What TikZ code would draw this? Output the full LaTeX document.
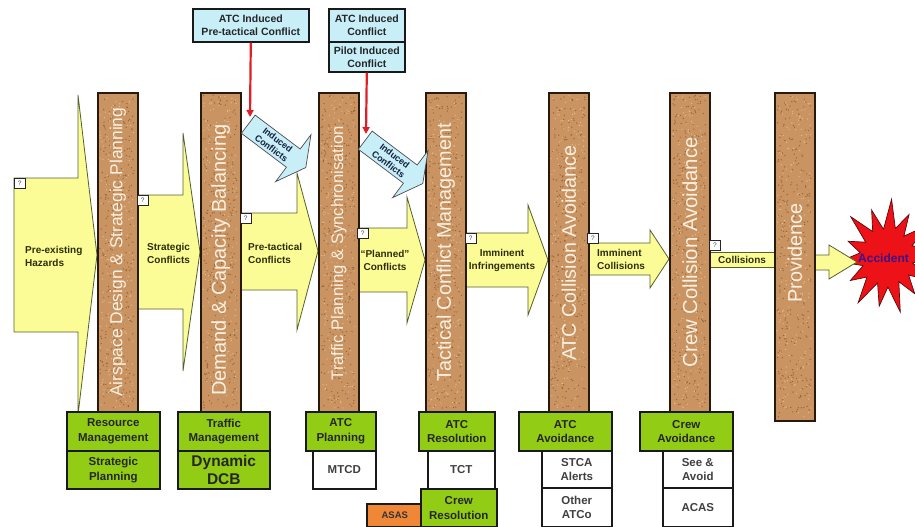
\documentclass[tikz,border=0pt]{standalone}
\usepackage{fontspec}
\setmainfont{Liberation Sans}
\usetikzlibrary{shapes.arrows,arrows.meta,calc}

\definecolor{cork}{RGB}{201,148,98}
\definecolor{corkdark}{RGB}{150,100,58}
\definecolor{corklight}{RGB}{228,190,145}
\definecolor{corkedge}{RGB}{40,25,15}
\definecolor{corktext}{RGB}{248,240,226}
\definecolor{hazard}{RGB}{252,252,150}
\definecolor{hazardedge}{RGB}{85,95,45}
\definecolor{inktext}{RGB}{45,45,10}
\definecolor{induced}{RGB}{200,238,248}
\definecolor{navytext}{RGB}{20,30,60}
\definecolor{alarm}{RGB}{225,30,35}
\definecolor{leaf}{RGB}{146,204,20}
\definecolor{asas}{RGB}{240,135,55}
\definecolor{blast}{RGB}{236,18,24}
\definecolor{blastedge}{RGB}{90,10,10}
\definecolor{blasttext}{RGB}{60,20,140}

\tikzset{
  barrier/.style={draw=corkedge, fill=cork, line width=1.6pt, minimum width=40pt, inner sep=0pt},
  barlabel/.style={rotate=90, text=corktext, inner sep=0pt},
  flow/.style={draw=hazardedge, fill=hazard, line width=0.8pt, line join=miter},
  flowtext/.style={font=\bfseries\fontsize{10}{13}\selectfont, text=inktext, inner sep=0pt},
  query/.style={draw=black!85, fill=white, line width=0.6pt, minimum width=11pt, minimum height=10pt,
    inner sep=0pt, anchor=north west, font=\fontsize{6.5}{6.5}\selectfont, text=black!70},
  infobox/.style={draw=black!90, fill=induced, line width=1.6pt, inner sep=0pt, anchor=north west,
    align=center, font=\bfseries\fontsize{10.5}{13}\selectfont, text=black!85},
  inducedarrow/.style={single arrow, draw=black!70, fill=induced, line width=0.7pt,
    single arrow head extend=18pt, single arrow tip angle=124, minimum height=72pt,
    inner xsep=2pt, inner ysep=2.5pt, anchor=tail, rotate=-37, align=center,
    font=\bfseries\fontsize{9}{10.5}\selectfont, text=navytext},
  cause/.style={draw=alarm, line width=2.2pt, -{Triangle[length=7pt,width=7pt]}},
  barrierbox/.style={draw=black!90, fill=leaf, line width=1.6pt, inner sep=0pt, anchor=north west,
    align=center, font=\bfseries\fontsize{11.5}{14.5}\selectfont, text=black!85},
  toolbox/.style={barrierbox, fill=white, text=black!75},
  asasbox/.style={barrierbox, fill=asas, font=\bfseries\fontsize{9.5}{11}\selectfont, text=black!80},
}

\begin{document}
\begin{tikzpicture}[x=1pt,y=-1pt]
\useasboundingbox (0,0) rectangle (915,527);

% accident starburst
\begin{scope}[shift={(887,257)}, xscale=0.9]
  \draw[fill=blast, draw=blastedge, line width=0.7pt, line join=miter]
    plot coordinates {(0:52) (12:29) (25:58) (37:30) (50:48) (62:28) (75:57) (88:30)
      (100:50) (112:28) (125:56) (138:30) (150:47) (162:28) (175:53) (188:30)
      (200:46) (212:28) (225:57) (238:30) (250:50) (262:28) (275:58) (288:30)
      (300:49) (312:28) (325:56) (338:30) (350:48)} -- cycle;
\end{scope}
\node[anchor=west, inner sep=0pt, font=\bfseries\fontsize{12}{12}\selectfont, text=blasttext] (acc) at (858,258) {Accident};

% flow arrows between the barriers
\draw[flow] (14,178) -- (78,178) -- (78,95) -- (97,255) -- (78,415) -- (78,332) -- (14,332) -- cycle;
\draw[flow] (135,195) -- (183,195) -- (183,133) -- (200,252) -- (183,371) -- (183,309) -- (135,309) -- cycle;
\draw[flow] (238,213) -- (297,213) -- (297,173) -- (318,251) -- (297,330) -- (297,290) -- (238,290) -- cycle;
\draw[flow] (355,228) -- (407,228) -- (407,197) -- (425,260) -- (407,323) -- (407,292) -- (355,292) -- cycle;
\draw[flow] (463,233) -- (528,233) -- (528,205) -- (548,260) -- (528,315) -- (528,287) -- (463,287) -- cycle;
\draw[flow] (585,243) -- (650,243) -- (650,230) -- (669,259) -- (650,288) -- (650,275) -- (585,275) -- cycle;
\draw[flow] (707,252) rectangle (790,267);
\draw[flow] (812,255) -- (829,255) -- (829,245) -- (857,262) -- (829,279) -- (829,270) -- (812,270) -- cycle;

\node[flowtext, anchor=west, align=left] (f1) at (25,256) {Pre-existing\\Hazards};
\node[flowtext, anchor=west, align=left] (f2) at (147,253) {Strategic\\Conflicts};
\node[flowtext, anchor=west, align=left] (f3) at (248,253) {Pre-tactical\\Conflicts};
\node[flowtext, align=center] (f4) at (385,260) {“Planned”\\Conflicts};
\node[flowtext, align=center] (f5) at (502,260) {Imminent\\Infringements};
\node[flowtext, anchor=west, align=left] (f6) at (597,259.5) {Imminent\\Collisions};
\node[flowtext, anchor=west] (f7) at (718,259.5) {Collisions};

% barriers with a cork finish
\foreach \bx/\bb [count=\i] in {97/411,200/411,318/411,425/411,548/411,669/411,774/420}{
  \node[barrier, minimum height={\bb-92}, anchor=north west] (bar\i) at (\bx,92) {};
}
\pgfmathsetseed{17}
\foreach \bx/\bb in {97/411,200/411,318/411,425/411,548/411,669/411,774/420}{
  \foreach \k in {1,...,300}{
    \fill[corkdark] ({\bx+3+34*rnd},{95+(\bb-98)*rnd}) circle (0.7);
  }
  \foreach \k in {1,...,200}{
    \fill[corklight] ({\bx+3+34*rnd},{95+(\bb-98)*rnd}) circle (0.65);
  }
}
\node[barlabel, font=\fontsize{17.4}{17.4}\selectfont] (l1) at (bar1.center) {Airspace Design \& Strategic Planning};
\node[barlabel, font=\fontsize{20}{20}\selectfont] (l2) at ($(bar2.center)+(0,8)$) {Demand \& Capacity Balancing};
\node[barlabel, font=\fontsize{16.7}{16.7}\selectfont] (l3) at ($(bar3.center)+(0,1)$) {Traffic Planning \& Synchronisation};
\node[barlabel, font=\fontsize{19.8}{19.8}\selectfont] (l4) at (bar4.center) {Tactical Conflict Management};
\node[barlabel, font=\fontsize{19.7}{19.7}\selectfont] (l5) at ($(bar5.center)+(0,1)$) {ATC Collision Avoidance};
\node[barlabel, font=\fontsize{20.3}{20.3}\selectfont] (l6) at (bar6.center) {Crew Collision Avoidance};
\node[barlabel, font=\fontsize{19.8}{19.8}\selectfont] (l7) at ($(bar7.center)+(0,-4)$) {Providence};

% open issue markers
\node[query] (q1) at (14,178) {?};
\node[query] (q2) at (137,195) {?};
\node[query] (q3) at (240,213) {?};
\node[query] (q4) at (357,228) {?};
\node[query] (q5) at (465,233) {?};
\node[query] (q6) at (587,233) {?};
\node[query] (q7) at (709,240) {?};

% induced conflict sources
\node[infobox, minimum width=116pt, minimum height=33pt] (pta) at (192,8) {ATC Induced\\Pre-tactical Conflict};
\node[infobox, minimum width=76pt, minimum height=33pt] (atci) at (328,8) {ATC Induced\\Conflict};
\node[infobox, minimum width=76pt, minimum height=30pt] (pilot) at (328,41) {Pilot Induced\\Conflict};

\node[inducedarrow] (ind1) at (248,124) {Induced\\Conflicts};
\node[inducedarrow] (ind2) at (365,140) {Induced\\Conflicts};

\coordinate (r1end) at (250,117);
\coordinate (r2end) at (366,134);
\draw[cause] (pta.south) -- (r1end);
\draw[cause] (pilot.south) -- (r2end);

% barrier functions and their tools
\node[barrierbox, minimum width=93pt, minimum height=39pt] (g1a) at (66,411) {Resource\\Management};
\node[barrierbox, minimum width=93pt, minimum height=38pt] (g1b) at (66,450) {Strategic\\Planning};
\node[barrierbox, minimum width=92pt, minimum height=39pt] (g2a) at (177,411) {Traffic\\Management};
\node[barrierbox, minimum width=92pt, minimum height=38pt, font=\bfseries\fontsize{15.5}{18.5}\selectfont] (g2b) at (177,450) {Dynamic\\DCB};

\node[toolbox, minimum width=63pt, minimum height=38pt] (w3) at (312,450) {MTCD};
\node[barrierbox, minimum width=70pt, minimum height=39pt] (g3a) at (305,411) {ATC\\Planning};

\node[asasbox, minimum width=56pt, minimum height=23pt] (o4) at (366,503) {ASAS};
\node[toolbox, minimum width=67pt, minimum height=38pt] (w4) at (427,450) {TCT};
\node[barrierbox, minimum width=76pt, minimum height=38pt] (g4b) at (420,488) {Crew\\Resolution};
\node[barrierbox, minimum width=76pt, minimum height=39pt] (g4a) at (418,411) {ATC\\Resolution};

\node[toolbox, minimum width=70pt, minimum height=37pt] (w5a) at (541,450) {STCA\\Alerts};
\node[toolbox, minimum width=70pt, minimum height=39pt] (w5b) at (541,487) {Other\\ATCo};
\node[barrierbox, minimum width=93pt, minimum height=39pt] (g5a) at (518,411) {ATC\\Avoidance};

\node[toolbox, minimum width=70pt, minimum height=37pt] (w6a) at (662,450) {See \&\\Avoid};
\node[toolbox, minimum width=70pt, minimum height=39pt] (w6b) at (662,487) {ACAS};
\node[barrierbox, minimum width=93pt, minimum height=39pt] (g6a) at (639,411) {Crew\\Avoidance};
\end{tikzpicture}
\end{document}
